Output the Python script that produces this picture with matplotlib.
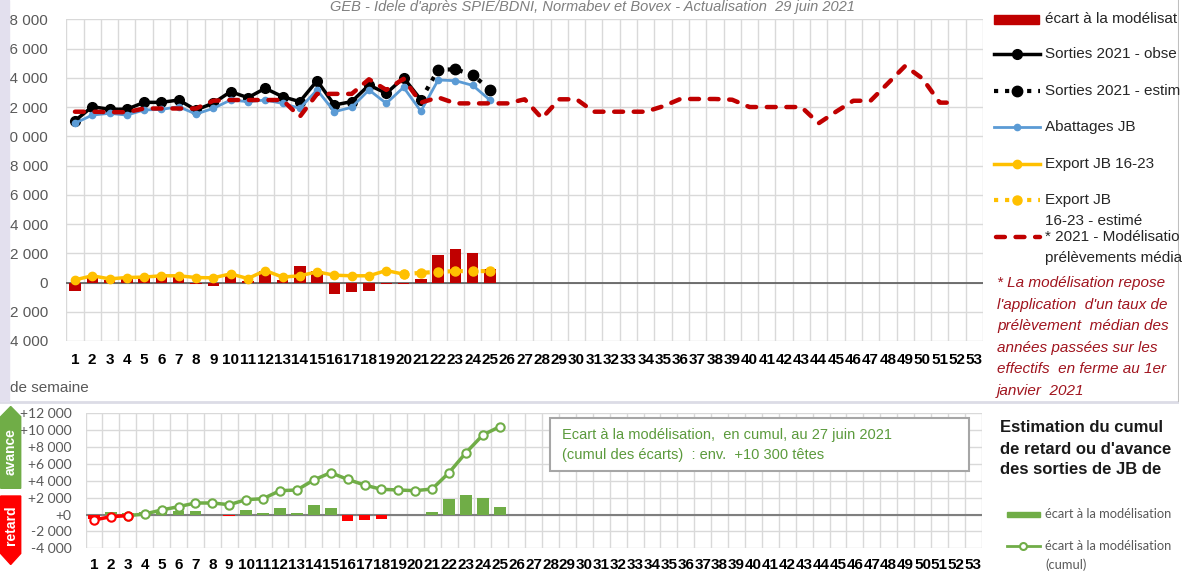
import matplotlib.pyplot as plt
from matplotlib.patches import Rectangle, Polygon
import numpy as np

# données
semaines = np.arange(1, 54)
sem_obs = np.arange(1, 22)
sorties_obs = [11065, 12020, 11850, 11850, 12320, 12320, 12480, 11800, 12270, 13050,
               12640, 13280, 12710, 12370, 13800, 12140, 12370, 13500, 12940, 14000, 12500]
sem_est = np.arange(21, 26)
sorties_est = [12500, 14550, 14580, 14200, 13180]
sem_25 = np.arange(1, 26)
abattages = [10890, 11450, 11570, 11450, 11800, 11840, 12020, 11520, 11910, 12480,
             12370, 12480, 12250, 11910, 13170, 11680, 11980, 13170, 12250, 13350,
             11720, 13850, 13800, 13480, 12470]
ecart = [-550, 330, 180, 250, 320, 400, 450, -100, -220, 560, 130, 820, 140, 1150, 820,
         -820, -640, -550, -100, -110, 260, 1860, 2300, 2000, 940]
sem_export = np.arange(1, 21)
export = [180, 460, 250, 340, 370, 460, 460, 340, 320, 590, 270, 820, 370, 460, 730,
          500, 460, 460, 820, 570]
sem_export_est = np.arange(20, 26)
export_est = [570, 660, 730, 780, 780, 780]
sem_mod = np.arange(1, 53)
modele = [11680, 11680, 11650, 11650, 11900, 11900, 11900, 11900, 12430, 12480,
          12480, 12480, 12480, 11340, 12900, 12900, 12900, 13900, 13170, 13930,
          12300, 12660, 12250, 12250, 12250, 12250, 12530, 11230, 12530, 12530,
          11680, 11680, 11680, 11680, 12050, 12550, 12550, 12550, 12500, 12000,
          12000, 12000, 12000, 10890, 11680, 12430, 12430, 13620, 14810, 13950,
          12300, 12300]
cumul = [-650, -250, -130, 65, 540, 935, 1370, 1370, 1170, 1765, 1880, 2830, 2910,
         4095, 4965, 4170, 3500, 2990, 2910, 2830, 3030, 4965, 7335, 9430, 10420]

W, H = 1182, 572
plt.rcParams['font.family'] = ['Liberation Sans', 'DejaVu Sans']
fig = plt.figure(figsize=(W / 100, H / 100), dpi=100)

GRID = '#D9D9D9'
TXT = '#595959'
tick_font = dict(family=['Liberation Sans Narrow', 'Liberation Sans'], weight='bold', size=11)


def px_axes(left, top, right, bottom):
    return fig.add_axes([left / W, 1 - bottom / H, (right - left) / W, (bottom - top) / H])


def fmt(v, plus=False):
    s = f'{abs(v):,}'.replace(',', ' ')
    if v < 0:
        return '-' + s
    return ('+' + s) if plus else s


def style_axes(ax, ymin, ymax, plus, pad_y, ylabel_font):
    ax.set_xlim(0.5, 53.5)
    ax.set_ylim(ymin, ymax)
    yt = np.arange(ymin, ymax + 1, 2000)
    ax.set_yticks(yt)
    ax.set_yticklabels([fmt(v, plus) for v in yt], color=TXT, **ylabel_font)
    ax.set_xticks(semaines)
    ax.set_xticklabels([str(s) for s in semaines], **tick_font)
    ax.set_xticks(np.arange(0.5, 54), minor=True)
    ax.grid(which='minor', axis='x', color=GRID, lw=1)
    ax.grid(which='major', axis='y', color=GRID, lw=1)
    ax.tick_params(which='both', length=0)
    ax.tick_params(axis='y', pad=pad_y)
    for sp in ax.spines.values():
        sp.set_visible(False)
    ax.set_axisbelow(True)


# --- graphique du haut ---
ax = px_axes(66.3, 19.3, 983, 341)
style_axes(ax, -4000, 18000, False, 13, dict(size=11))
ax.tick_params(axis='x', pad=9)
ax.axhline(0, color='#595959', lw=1.2, zorder=1)
ax.bar(sem_25, ecart, width=0.66, color='#C00000', zorder=2)
ax.plot(sem_obs, sorties_obs, color='black', lw=2.5, marker='o', ms=7, zorder=3)
ax.plot(sem_est, sorties_est, color='black', lw=3, ls=':', zorder=3)
ax.plot(sem_est[1:], sorties_est[1:], 'o', color='black', ms=7.5, zorder=3)
ax.plot(sem_25, abattages, color='#5B9BD5', lw=2, marker='o', ms=4.5, zorder=4)
ax.plot(sem_export, export, color='#FFC000', lw=2.5, marker='o', ms=6, zorder=4)
ax.plot(sem_export_est, export_est, color='#FFC000', lw=3, ls=':', marker='o', ms=6.5, zorder=4)
ax.plot(sem_mod, modele, color='#C00000', lw=3.2, dashes=(2.0, 2.4),
        dash_capstyle='round', zorder=5)

# --- graphique du bas ---
bx = px_axes(85.5, 413.3, 981.7, 548.3)
style_axes(bx, -4000, 12000, True, 10, dict(family=['Lato', 'Liberation Sans'], size=10))
bx.tick_params(axis='x', pad=7)
bx.axhline(0, color='#7F7F7F', lw=1.5, zorder=1)
bx.bar(sem_25, ecart, width=0.69, zorder=2,
       color=['#70AD47' if v >= 0 else '#FF0000' for v in ecart])
bx.plot(sem_25[2:], cumul[2:], color='#70AD47', lw=2.5, marker='o', ms=6,
        mfc='white', mec='#70AD47', mew=1.5, zorder=3)
bx.plot(sem_25[:3], cumul[:3], color='#FF0000', lw=2.5, marker='o', ms=6,
        mfc='white', mec='#FF0000', mew=1.5, zorder=4)

# --- habillage en pixels ---
ov = fig.add_axes([0, 0, 1179 / W, 1])
ov.set_xlim(0, 1179)
ov.set_ylim(H, 0)
ov.axis('off')

ov.add_patch(Rectangle((0, 0), 9, 401, color='#E3E0EE', zorder=5))
ov.plot([0, 1179], [401.5, 401.5], color='#DCDCE6', lw=2)
ov.plot([1178.5, 1178.5], [0, 401], color='#BFBFBF', lw=1.5)

ov.text(592, 11, "GEB - Idele d'après SPIE/BDNI, Normabev et Bovex - Actualisation  29 juin 2021",
        ha='center', va='baseline', style='italic', color='#7F7F7F', fontsize=10.5)
ov.text(10, 388, 'de semaine', color=TXT, fontsize=11, va='center')

# légende du haut
ov.add_patch(Rectangle((994, 15), 45, 8.5, color='#C00000'))
ov.plot([994, 1040], [54, 54], color='black', lw=2.5)
ov.plot([1017], [54], 'o', color='black', ms=7)
ov.plot([994, 1040], [91, 91], color='black', lw=3, ls=':')
ov.plot([1017], [91], 'o', color='black', ms=7.5)
ov.plot([994, 1040], [127, 127], color='#5B9BD5', lw=2)
ov.plot([1017], [127], 'o', color='#5B9BD5', ms=4.5)
ov.plot([994, 1040], [164, 164], color='#FFC000', lw=2.5)
ov.plot([1017], [164], 'o', color='#FFC000', ms=6)
ov.plot([994, 1040], [200, 200], color='#FFC000', lw=3, ls=':')
ov.plot([1017], [200], 'o', color='#FFC000', ms=6.5)
ov.plot([996, 1040], [237, 237], color='#C00000', lw=3.2, dashes=(2.0, 2.4),
        dash_capstyle='round')

# textes de légende tels qu'ils apparaissent (coupés par le cadre)
legende = [('écart à la modélisat', 19), ('Sorties 2021 - obse', 54),
           ('Sorties 2021 - estim', 91), ('Abattages JB', 127), ('Export JB 16-23', 164),
           ('Export JB', 200), ('16-23 - estimé', 221), ('* 2021 - Modélisatio', 237),
           ('prélèvements média', 258)]
for txt, y in legende:
    ov.text(1045, y, txt, fontsize=11, color='#262626', va='center')

note = ['* La modélisation repose', "l'application  d'un taux de", 'prélèvement  médian des',
        'années passées sur les', 'effectifs  en ferme au 1er', 'janvier  2021']
for i, txt in enumerate(note):
    ov.text(997, 283 + i * 21.6, txt, fontsize=11, style='italic', color='#A0141E',
            va='center')

# flèches avance / retard
ov.add_patch(Polygon([(0.7, 416.7), (10.7, 406.5), (20.7, 416.7), (20.7, 488.3), (0.7, 488.3)],
                     closed=True, color='#70AD47'))
ov.add_patch(Polygon([(0.7, 496), (20.7, 496), (20.7, 553.5), (10.7, 564.5), (0.7, 553.5)],
                     closed=True, color='#FF0000'))
ov.text(10.7, 452, 'avance', rotation=90, color='white', fontweight='bold', fontsize=10,
        ha='center', va='center')
ov.text(10.7, 525, 'retard', rotation=90, color='white', fontweight='bold', fontsize=10,
        ha='center', va='center')

# encadré
ov.add_patch(Rectangle((550, 418), 419, 53, fc='white', ec='#A6A6A6', lw=1.5, zorder=3))
ov.text(562, 435, 'Ecart à la modélisation,  en cumul, au 27 juin 2021', color='#5B9A3C',
        fontsize=10.5, va='center', zorder=4)
ov.text(562, 455, '(cumul des écarts)  : env.  +10 300 têtes', color='#5B9A3C',
        fontsize=10.5, va='center', zorder=4)

# titre et légende du bas
for i, txt in enumerate(['Estimation du cumul', "de retard ou d'avance", 'des sorties de JB de']):
    ov.text(1000, 428 + i * 21, txt, fontsize=12, fontweight='bold', color='#1A1A1A',
            va='center')
ov.add_patch(Rectangle((1007, 512), 33, 5, color='#70AD47'))
ov.plot([1007, 1040], [546, 546], color='#70AD47', lw=2)
ov.plot([1023], [546], 'o', ms=5, mfc='white', mec='#70AD47', mew=1.5)
for txt, y in [('écart à la modélisation', 514), ('écart à la modélisation', 546), ('(cumul)', 565)]:
    ov.text(1045, y, txt, fontsize=9.3, color=TXT, va='center',
            family=['Lato', 'Liberation Sans'])

fig.savefig('out.png', dpi=100)
